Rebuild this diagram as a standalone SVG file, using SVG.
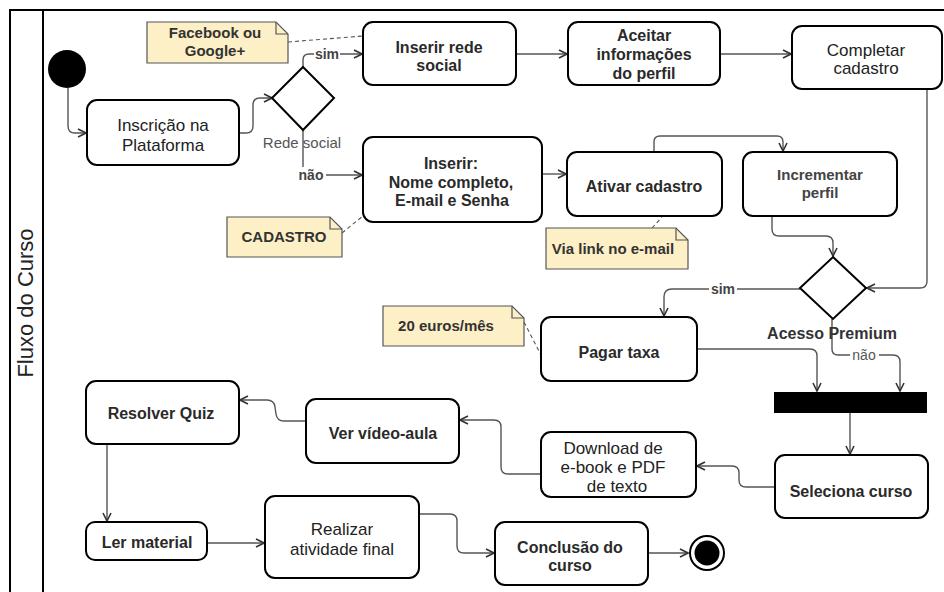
<svg xmlns="http://www.w3.org/2000/svg" width="944" height="592" viewBox="0 0 944 592">
  <style>
    .box { fill: #ffffff; stroke: #000000; stroke-width: 2; }
    .note { fill: #fdefc6; stroke: #555555; stroke-width: 1.2; }
    .fold { fill: none; stroke: #555555; stroke-width: 1.2; }
    .edge { fill: none; stroke: #555555; stroke-width: 1.4; }
    .link { fill: none; stroke: #555555; stroke-width: 1.1; stroke-dasharray: 4 3; }
    .lane { fill: none; stroke: #000000; stroke-width: 2; }
    text { font-family: "Liberation Sans", Arial, sans-serif; text-anchor: middle; }
    .tb { font-size: 16px; font-weight: bold; fill: #2a2a2a; }
    .tr { font-size: 17px; fill: #222222; }
    .tn { font-size: 15px; font-weight: bold; fill: #333333; }
    .lbl { font-size: 14px; font-weight: bold; fill: #444444; }
    .lblr { font-size: 15px; fill: #555555; }
  </style>
  <defs>
    <marker id="arrow" viewBox="0 0 10 10" refX="9" refY="5" markerWidth="10" markerHeight="10" markerUnits="userSpaceOnUse" orient="auto">
      <path d="M1,1 L9,5 L1,9" fill="none" stroke="#333333" stroke-width="1.6"/>
    </marker>
  </defs>

  <rect width="944" height="592" fill="#ffffff"/>

  <!-- swimlane -->
  <g id="lane">
    <path class="lane" d="M10,592 V10 H944"/>
    <path class="lane" d="M43,10 V592"/>
    <text x="0" y="0" transform="translate(33,303) rotate(-90)" style="font-size:22px;fill:#222222">Fluxo do Curso</text>
  </g>

  <!-- connectors -->
  <g id="connectors">
    <path class="edge" marker-end="url(#arrow)" d="M68,88 V126 Q68,133 75,133 H86"/>
    <path class="edge" marker-end="url(#arrow)" d="M239,133 H246 Q253,133 253,126 V105 Q253,98 260,98 H272"/>
    <path class="edge" marker-end="url(#arrow)" d="M303,67 V60 Q303,54 309,54 H362"/>
    <path class="edge" marker-end="url(#arrow)" d="M303,130 V175 H362"/>
    <path class="edge" marker-end="url(#arrow)" d="M516,54 H567"/>
    <path class="edge" marker-end="url(#arrow)" d="M720,54 H791"/>
    <path class="edge" marker-end="url(#arrow)" d="M927,89 V281 Q927,288 920,288 H867"/>
    <path class="edge" marker-end="url(#arrow)" d="M542,174 H566"/>
    <path class="edge" marker-end="url(#arrow)" d="M654,152 V142 Q654,136 660,136 H777 Q783,136 783,142 V151"/>
    <path class="edge" marker-end="url(#arrow)" d="M772,216 V229 Q772,236 779,236 H826 Q833,236 833,243 V256"/>
    <path class="edge" marker-end="url(#arrow)" d="M800,289 H672 Q664,289 664,297 V316"/>
    <path class="edge" marker-end="url(#arrow)" d="M832,319 V349 Q832,355 838,355 H893 Q900,355 900,362 V391"/>
    <path class="edge" marker-end="url(#arrow)" d="M697,349 H810 Q817,349 817,356 V391"/>
    <path class="edge" marker-end="url(#arrow)" d="M850,413 V454"/>
    <path class="edge" marker-end="url(#arrow)" d="M775,487 H746 Q739,487 739,480 V473 Q739,466 732,466 H697"/>
    <path class="edge" marker-end="url(#arrow)" d="M541,474 H508 Q501,474 501,467 V427 Q501,420 494,420 H460"/>
    <path class="edge" marker-end="url(#arrow)" d="M306,421 H284 Q277,421 276,414 L275,407 Q274,400 267,400 H240"/>
    <path class="edge" marker-end="url(#arrow)" d="M107,444 V521"/>
    <path class="edge" marker-end="url(#arrow)" d="M207,543 H264"/>
    <path class="edge" marker-end="url(#arrow)" d="M419,514 H450 Q457,514 457,521 V546 Q457,553 464,553 H494"/>
    <path class="edge" marker-end="url(#arrow)" d="M648,553 H688"/>

    <!-- note anchors -->
    <path class="link" d="M288,42 L363,36"/>
    <path class="link" d="M342,233 L363,216"/>
    <path class="link" d="M652,228 L662,217"/>
    <path class="link" d="M524,322 L541,355"/>

    <!-- edge labels -->
    <rect x="314" y="46" width="26" height="16" fill="#ffffff"/>
    <text class="lbl" x="327" y="59">sim</text>
    <text class="lblr" x="302" y="148">Rede social</text>
    <rect x="297" y="167" width="29" height="16" fill="#ffffff"/>
    <text class="lbl" x="311" y="180">não</text>
    <rect x="709" y="281" width="28" height="16" fill="#ffffff"/>
    <text class="lbl" x="723" y="294">sim</text>
    <text x="832" y="339" style="font-size:16px;font-weight:bold;fill:#333333">Acesso Premium</text>
    <rect x="850" y="347" width="29" height="16" fill="#ffffff"/>
    <text x="864" y="360" style="font-size:14px;fill:#555555">não</text>
  </g>

  <!-- start / end -->
  <g id="start"><circle cx="67" cy="69" r="19" fill="#000000"/></g>
  <g id="end">
    <circle cx="707" cy="553" r="17" fill="#ffffff" stroke="#000000" stroke-width="2"/>
    <circle cx="707" cy="553" r="12.5" fill="#000000"/>
  </g>

  <!-- decisions and fork -->
  <g id="decision-rede-social"><path d="M303,67 L334,98 L303,130 L272,98 Z" fill="#ffffff" stroke="#000000" stroke-width="2"/></g>
  <g id="decision-acesso-premium"><path d="M833,257 L866,288 L833,319 L800,288 Z" fill="#ffffff" stroke="#000000" stroke-width="2"/></g>
  <g id="fork"><rect x="774" y="392" width="153" height="21" fill="#000000"/></g>

  <!-- activities -->
  <g id="inscricao">
    <rect class="box" x="87" y="100" width="152" height="65" rx="10"/>
    <text class="tr" x="163" y="131">Inscrição na</text>
    <text class="tr" x="163" y="151">Plataforma</text>
  </g>
  <g id="inserir-rede-social">
    <rect class="box" x="363" y="22" width="153" height="63" rx="10"/>
    <text class="tb" x="439" y="53">Inserir rede</text>
    <text class="tb" x="439" y="71">social</text>
  </g>
  <g id="aceitar-informacoes">
    <rect class="box" x="568" y="22" width="152" height="63" rx="10"/>
    <text class="tb" x="644" y="41">Aceitar</text>
    <text class="tb" x="644" y="60">informações</text>
    <text class="tb" x="644" y="79">do perfil</text>
  </g>
  <g id="completar-cadastro">
    <rect class="box" x="792" y="26" width="150" height="63" rx="10"/>
    <text class="tr" x="866" y="56">Completar</text>
    <text class="tr" x="866" y="74">cadastro</text>
  </g>
  <g id="inserir-dados">
    <rect class="box" x="363" y="137" width="179" height="85" rx="10"/>
    <text class="tb" x="451" y="169">Inserir:</text>
    <text class="tb" x="451" y="188">Nome completo,</text>
    <text class="tb" x="452" y="206">E-mail e Senha</text>
  </g>
  <g id="ativar-cadastro">
    <rect class="box" x="567" y="152" width="155" height="64" rx="10"/>
    <text class="tb" x="644" y="192">Ativar cadastro</text>
  </g>
  <g id="incrementar-perfil">
    <rect class="box" x="743" y="152" width="154" height="64" rx="10"/>
    <text x="820" y="180" style="font-size:15px;font-weight:bold;fill:#444444">Incrementar</text>
    <text x="820" y="198" style="font-size:15px;font-weight:bold;fill:#444444">perfil</text>
  </g>
  <g id="pagar-taxa">
    <rect class="box" x="541" y="317" width="156" height="64" rx="10"/>
    <text class="tb" x="619" y="358">Pagar taxa</text>
  </g>
  <g id="seleciona-curso">
    <rect class="box" x="775" y="455" width="153" height="63" rx="10"/>
    <text class="tb" x="851" y="497">Seleciona curso</text>
  </g>
  <g id="download">
    <rect class="box" x="541" y="432" width="155" height="65" rx="10"/>
    <text class="tr" x="613" y="454">Download de</text>
    <text class="tr" x="613" y="473">e-book e PDF</text>
    <text class="tr" x="617" y="492">de texto</text>
  </g>
  <g id="ver-video-aula">
    <rect class="box" x="306" y="399" width="153" height="64" rx="10"/>
    <text class="tb" x="383" y="439">Ver vídeo-aula</text>
  </g>
  <g id="resolver-quiz">
    <rect class="box" x="86" y="381" width="153" height="63" rx="10"/>
    <text class="tb" x="161" y="419">Resolver Quiz</text>
  </g>
  <g id="ler-material">
    <rect class="box" x="86" y="522" width="121" height="38" rx="9"/>
    <text class="tb" x="147" y="548">Ler material</text>
  </g>
  <g id="realizar-atividade">
    <rect class="box" x="265" y="496" width="154" height="82" rx="10"/>
    <text class="tr" x="342" y="535">Realizar</text>
    <text class="tr" x="342" y="555">atividade final</text>
  </g>
  <g id="conclusao">
    <rect class="box" x="495" y="522" width="153" height="63" rx="10"/>
    <text class="tb" x="570" y="553">Conclusão do</text>
    <text class="tb" x="570" y="571">curso</text>
  </g>

  <!-- notes -->
  <g id="note-facebook">
    <path class="note" d="M147,22 H276 L288,34 V63 H147 Z"/>
    <path class="fold" d="M276,22 V34 H288"/>
    <text class="tn" x="215" y="38">Facebook ou</text>
    <text class="tn" x="215" y="56">Google+</text>
  </g>
  <g id="note-cadastro">
    <path class="note" d="M227,217 H330 L342,229 V257 H227 Z"/>
    <path class="fold" d="M330,217 V229 H342"/>
    <text class="tn" x="284" y="242">CADASTRO</text>
  </g>
  <g id="note-via-link">
    <path class="note" d="M546,228 H676 L688,240 V269 H546 Z"/>
    <path class="fold" d="M676,228 V240 H688"/>
    <text class="tn" x="613" y="254">Via link no e-mail</text>
  </g>
  <g id="note-euros">
    <path class="note" d="M383,306 H512 L524,318 V346 H383 Z"/>
    <path class="fold" d="M512,306 V318 H524"/>
    <text class="tn" x="446" y="331">20 euros/mês</text>
  </g>
</svg>
